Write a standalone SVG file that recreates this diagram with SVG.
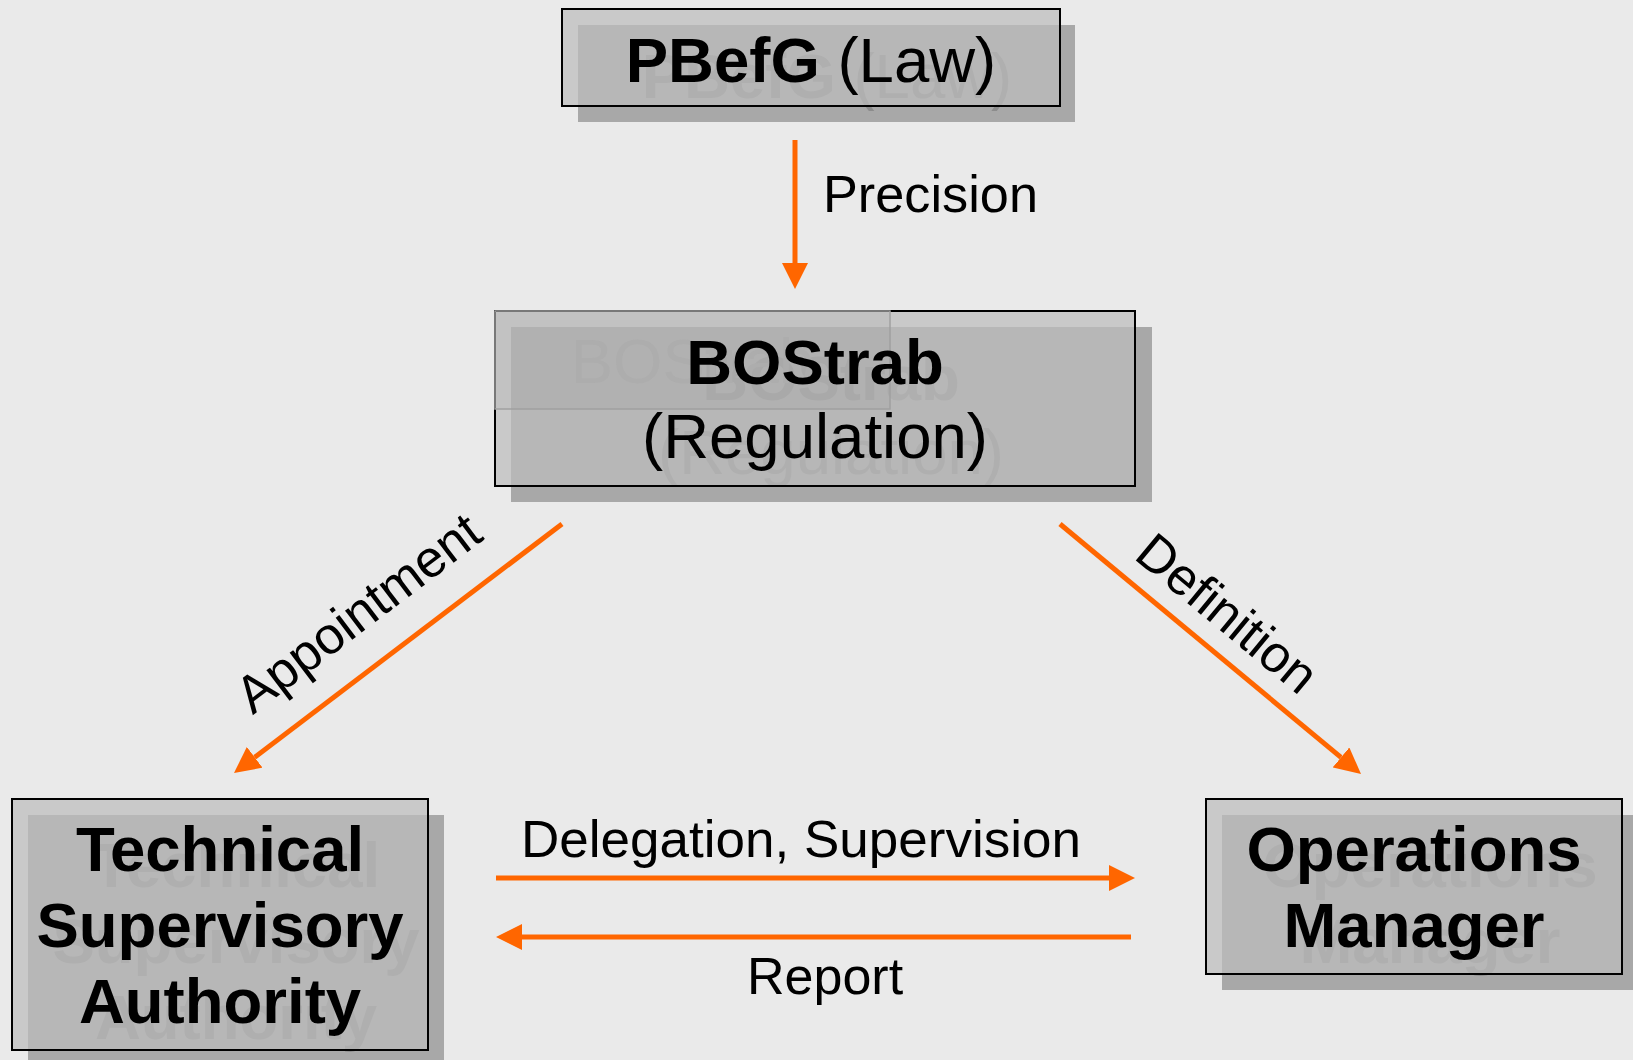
<svg xmlns="http://www.w3.org/2000/svg" width="1633" height="1060" viewBox="0 0 1633 1060">
<style>
.shadow{fill:#a8a8a8;stroke:none}
.front{fill:#bdbdbd;fill-opacity:0.72;stroke:#000;stroke-width:2}
.node{font-family:"Liberation Sans",Arial,sans-serif;font-size:63.5px;text-anchor:middle;fill:#000}
.node.ghost{fill:#8c8c8c}
.node.inner{fill:#adadad}
.b{font-weight:bold}
.lbl{font-family:"Liberation Sans",Arial,sans-serif;font-size:52px;fill:#000}
.conn{stroke:#ff6600;stroke-width:5;fill:none;marker-end:url(#ah)}
</style>
<defs>
<marker id="ah" markerUnits="userSpaceOnUse" markerWidth="26" markerHeight="26" refX="0" refY="13" orient="auto" viewBox="0 0 26 26">
<path d="M0,0 L26,13 L0,26 z" fill="#ff6600"/>
</marker>
</defs>
<rect x="0" y="0" width="1633" height="1060" fill="#eaeaea"/>

<g id="node-pbefg">
<rect class="shadow" x="578" y="25" width="497" height="97"/>
<text class="node ghost" x="827" y="98"><tspan class="b">PBefG</tspan> (Law)</text>
<rect class="front" x="562" y="9" width="498" height="97"/>
<text class="node" x="811" y="82"><tspan class="b">PBefG</tspan> (Law)</text>
</g>

<g id="node-bostrab">
<rect class="shadow" x="511" y="327" width="641" height="175"/>
<text class="node ghost b" x="831" y="400">BOStrab</text>
<text class="node ghost" x="831" y="474">(Regulation)</text>
<rect class="front" x="495" y="311" width="640" height="175"/>
<rect x="495" y="311" width="395" height="98" fill="#000" fill-opacity="0.03" stroke="#a0a0a0" stroke-width="1.5"/>
<text class="node inner" x="692.5" y="383">BOStrab</text>
<text class="node b" x="815" y="384">BOStrab</text>
<text class="node" x="815" y="458">(Regulation)</text>
</g>

<g id="node-tsa">
<rect class="shadow" x="28" y="815" width="416" height="252"/>
<text class="node ghost b" x="236" y="887">Technical</text>
<text class="node ghost b" x="236" y="963">Supervisory</text>
<text class="node ghost b" x="236" y="1039">Authority</text>
<rect class="front" x="12" y="799" width="416" height="251"/>
<text class="node b" x="220" y="871">Technical</text>
<text class="node b" x="220" y="947">Supervisory</text>
<text class="node b" x="220" y="1023">Authority</text>
</g>

<g id="node-om">
<rect class="shadow" x="1222" y="815" width="416" height="175"/>
<text class="node ghost b" x="1430" y="887">Operations</text>
<text class="node ghost b" x="1430" y="963">Manager</text>
<rect class="front" x="1206" y="799" width="416" height="175"/>
<text class="node b" x="1414" y="871">Operations</text>
<text class="node b" x="1414" y="947">Manager</text>
</g>

<g id="connectors">
<line class="conn" x1="795" y1="140" x2="795" y2="263"/>
<line class="conn" x1="562" y1="524" x2="254.7" y2="757.3"/>
<line class="conn" x1="1060" y1="524" x2="1341" y2="757.4"/>
<line class="conn" x1="496" y1="878" x2="1109" y2="878"/>
<line class="conn" x1="1131" y1="937" x2="522" y2="937"/>
<text class="lbl" x="823" y="212" textLength="215" lengthAdjust="spacingAndGlyphs">Precision</text>
<text class="lbl" text-anchor="middle" transform="translate(369,627) rotate(-37.2)">Appointment</text>
<text class="lbl" text-anchor="middle" transform="translate(1216,627) rotate(39.7)">Definition</text>
<text class="lbl" x="521" y="857" textLength="560" lengthAdjust="spacingAndGlyphs">Delegation, Supervision</text>
<text class="lbl" x="747" y="994">Report</text>
</g>
</svg>
